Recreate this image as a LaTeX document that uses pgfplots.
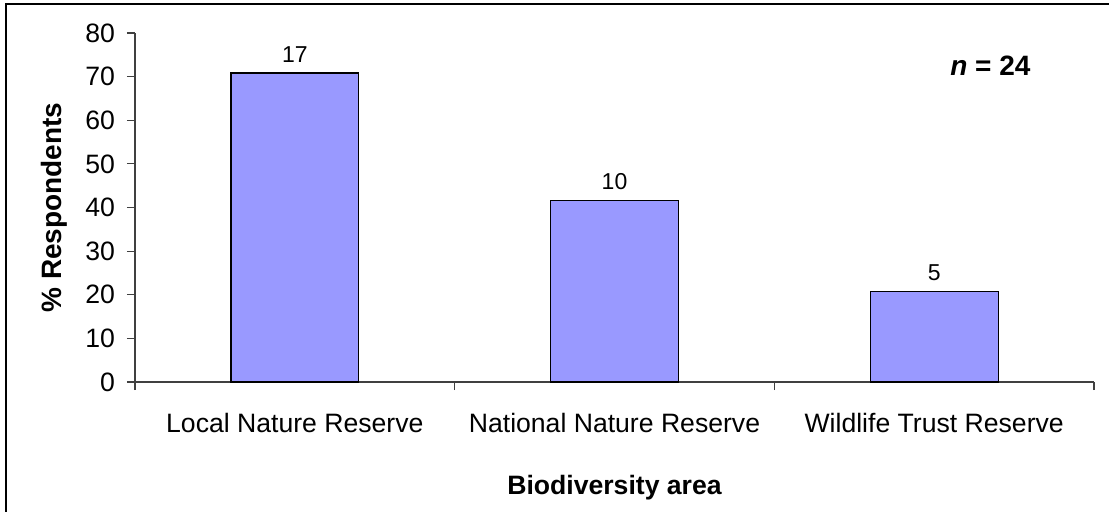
\documentclass[border=0pt]{standalone}
\usepackage{fontspec}
\setmainfont{Liberation Sans}
\usepackage{pgfplots}
\pgfplotsset{compat=1.18}
\definecolor{barblue}{HTML}{9999FF}
\begin{document}
\begin{tikzpicture}
% canvas in pixels of the reference: 1 px = 0.5pt
\path[use as bounding box] (0,0) rectangle (554.5pt,255.5pt);
\draw[line width=0.8pt] (3pt,-5pt) -- (3pt,253.5pt) -- (560pt,253.5pt);
\begin{axis}[
    at={(67.5pt,64.5pt)}, anchor=south west,
    width=479.5pt, height=174.5pt, scale only axis,
    ybar, bar width=0.4,
    xmin=-0.5, xmax=2.5, ymin=0, ymax=80,
    axis x line*=bottom, axis y line*=left,
    axis line style={-, black!75, line width=0.6pt},
    tick style={black!75, line width=0.6pt},
    tick align=outside, major tick length=4pt,
    ytick={0,10,...,80},
    xtick={-0.5,0.5,1.5,2.5}, xticklabels={},
    extra x ticks={0,1,2},
    extra x tick labels={Local Nature Reserve,National Nature Reserve,Wildlife Trust Reserve},
    extra x tick style={major tick length=0pt},
    /pgf/number format/assume math mode=true,
    ticklabel style={font=\fontsize{13.3}{15}\selectfont, black},
    xticklabel style={yshift=-12pt},
    yticklabel style={xshift=-2.5pt},
    xlabel={Biodiversity area},
    ylabel={\% Respondents},
    label style={font=\bfseries\fontsize{13.3}{15}\selectfont},
    xlabel style={at={(axis description cs:0.5,0)}, anchor=center, yshift=-53pt},
    ylabel style={at={(axis description cs:0,0.5)}, anchor=center, yshift=40.5pt,
        font=\bfseries\fontsize{14}{16}\selectfont},
    clip=false,
]
\addplot[fill=barblue, draw=black, line width=0.6pt,
    nodes near coords, point meta=explicit symbolic,
    nodes near coords style={font=\fontsize{11.5}{13}\selectfont, black, yshift=1.5pt}]
    table[meta=label] {
x y label
0 70.83 17
1 41.67 10
2 20.83 5
};
\node[font=\bfseries\fontsize{14}{16}\selectfont] at (rel axis cs:0.892,0.905) {\textit{n} = 24};
\end{axis}
\end{tikzpicture}
\end{document}
